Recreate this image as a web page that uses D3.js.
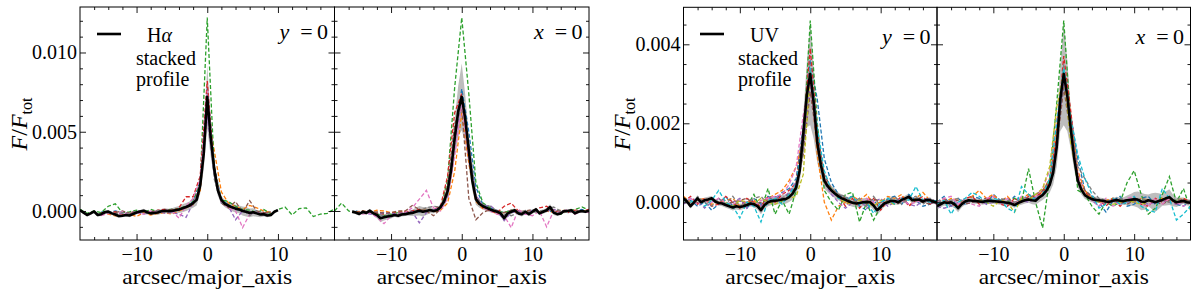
<!DOCTYPE html>
<html>
<head>
<meta charset="utf-8">
<script src="https://cdn.jsdelivr.net/npm/d3@7"></script>
<style>
  body { margin: 0; background: #fff; }
  svg { display: block; }
  text { font-family: "Liberation Serif", "DejaVu Serif", "Noto Serif", serif; fill: #000; }
</style>
</head>
<body>
<svg id="chart" width="1200" height="299"></svg>
<script>
// all profile values are F/F_tot in units of 1e-3

// ---- H-alpha, major axis (y = 0) ----
// stacked profile, x from -18 to 10 every 0.5 arcsec
const haMajBlack = [0.05,-0.1,-0.25,-0.15,-0.03,-0.25,-0.2,-0.08,-0.04,-0.15,-0.22,-0.32,-0.3,-0.25,-0.28,-0.19,-0.1,-0.03,0.02,-0.08,-0.15,-0.12,-0.1,-0.02,0.02,-0.01,0.0,0.05,0.1,0.17,0.25,0.35,0.5,0.7,1.6,3.6,7.2,4.6,2.6,1.3,0.7,0.45,0.33,0.23,0.15,0.1,0.0,-0.05,-0.12,-0.08,-0.15,-0.22,-0.2,-0.28,-0.25,-0.05,0.06];
const haMajSd = [0.08,0.08,0.1,0.1,0.1,0.1,0.12,0.12,0.1,0.1,0.12,0.12,0.1,0.1,0.12,0.1,0.1,0.1,0.12,0.12,0.1,0.12,0.15,0.15,0.15,0.15,0.18,0.2,0.22,0.25,0.25,0.25,0.3,0.35,0.5,1.0,2.0,1.2,0.6,0.35,0.25,0.22,0.22,0.25,0.25,0.25,0.28,0.3,0.28,0.25,0.22,0.18,0.15,0.12,0.1,0.08,0.08];
// single galaxies, every 1 arcsec from their start
const haMajColors = ['blue','orange','green','red','purple','brown','pink','gray'];
const haMajStarts = [-15,-15,-18,-15,-15,-13,-15,-14];
const haMajSeries = [
  [-0.05,-0.1,0.0,-0.1,-0.15,0.0,-0.1,-0.05,0.0,0.05,0.1,0.1,0.3,0.6,1.9,7.8,2.8,0.7,0.4,0.1,0.05,-0.1,0.0,-0.15,-0.05],
  [-0.1,-0.2,-0.3,-0.25,-0.2,-0.35,-0.1,-0.25,-0.15,-0.1,-0.2,0.0,0.2,0.4,1.2,6.3,3.8,1.2,0.5,0.3,0.1,0.35,0.2,0.0,-0.1],
  [0.1,-0.15,0.0,-0.1,0.3,0.45,-0.1,-0.05,0.05,-0.1,0.1,-0.05,0.05,0.1,0.15,0.3,0.6,1.8,12.2,2.6,0.7,0.6,0.3,0.1,0.05,-0.1,0.1,-0.2,0.1,0.25,-0.25,0.15,0.2,-0.35,-0.2,-0.15,0.15],
  [-0.1,-0.15,-0.05,-0.2,-0.1,-0.05,0.0,-0.1,0.05,0.1,0.0,0.2,0.9,0.9,2.2,8.2,2.4,0.6,0.3,0.15,0.0,-0.1,-0.05,-0.15,-0.1],
  [-0.2,-0.1,-0.25,-0.15,-0.2,-0.1,-0.2,-0.1,0.0,-0.15,-0.1,-0.2,-0.4,0.5,1.5,6.0,2.2,0.5,0.3,-0.55,0.0,-0.2,-0.1,-0.2],
  [-0.1,0.0,-0.15,-0.05,-0.1,0.0,-0.05,0.0,0.1,0.05,0.2,0.4,1.5,7.0,2.8,0.5,0.2,0.6,-0.1,0.65,0.0,-0.1,-0.05],
  [-0.3,-0.15,-0.2,-0.05,-0.3,-0.1,-0.2,0.0,-0.1,0.05,0.0,-0.45,0.3,0.8,2.0,7.6,2.5,0.6,0.2,0.0,-1.05,-0.2,-0.1,-0.15],
  [-0.1,-0.2,-0.1,-0.15,0.0,-0.1,-0.2,0.05,-0.05,0.0,0.1,0.2,0.5,1.4,6.8,2.0,0.5,0.4,0.2,0.1,-0.3,0.0,-0.2,-0.1]
];

// ---- H-alpha, minor axis (x = 0) ----
// stacked profile, x from -15.5 to 18 every 0.5 arcsec
const haMinBlack = [-0.04,-0.1,-0.19,-0.05,-0.12,0.02,-0.15,-0.25,-0.46,-0.4,-0.35,-0.32,-0.25,-0.3,-0.22,-0.2,-0.15,-0.12,-0.05,0.02,-0.05,0.0,0.06,0.0,0.05,0.25,0.6,1.25,2.6,4.6,6.3,7.2,5.8,3.8,1.9,0.75,0.45,0.3,0.2,0.1,0.02,-0.05,-0.15,-0.45,-0.15,-0.05,0.05,-0.15,-0.2,-0.05,-0.2,-0.05,0.1,-0.15,-0.05,0.05,0.25,-0.1,-0.2,-0.15,0.0,0.0,0.05,-0.15,-0.05,0.0,-0.05,0.02];
const haMinSd = [0.1,0.1,0.1,0.1,0.1,0.12,0.12,0.2,0.25,0.2,0.18,0.15,0.12,0.12,0.12,0.12,0.15,0.2,0.25,0.3,0.3,0.25,0.2,0.15,0.15,0.2,0.3,0.5,0.8,1.2,1.6,2.1,1.5,1.0,0.6,0.35,0.25,0.2,0.2,0.18,0.15,0.15,0.2,0.25,0.2,0.15,0.12,0.12,0.15,0.15,0.12,0.12,0.12,0.12,0.12,0.15,0.18,0.15,0.12,0.1,0.1,0.1,0.1,0.1,0.1,0.1,0.1,0.1];
const haMinColors = ['blue','orange','green','red','purple','brown','pink','gray'];
const haMinStarts = [-15,-15,-18,-15,-15,-15,-15,-15];
const haMinSeries = [
  [0.0,-0.1,-0.05,-0.15,-0.1,-0.2,-0.1,-0.15,0.0,-0.05,0.1,0.05,0.2,0.9,4.5,7.7,5.0,1.5,0.4,0.2,0.0,-0.1,0.0,-0.15,-0.1,0.05,-0.1,0.0,-0.05,0.05,-0.1,0.0,0.1,-0.05],
  [-0.05,0.0,-0.1,0.05,0.0,-0.1,-0.05,0.0,-0.1,0.05,0.15,-0.05,0.05,0.5,2.5,6.2,3.0,0.6,0.15,0.05,-0.2,-0.1,0.0,-0.15,-0.1,0.05,-0.05,0.0,-0.1,0.05,0.0,-0.05,0.0,0.05],
  [0.0,0.5,0.0,-0.1,-0.15,0.0,-0.2,-0.3,-0.2,-0.1,-0.2,-0.1,0.1,0.0,0.05,0.1,2.0,7.8,12.2,7.4,1.8,0.5,0.2,0.0,-0.1,0.05,0.0,-0.05,0.0,-0.1,0.1,0.0,-0.2,0.0,0.1,0.25,0.05],
  [-0.1,-0.05,0.0,-0.15,-0.2,-0.1,-0.15,-0.05,0.0,0.1,0.0,0.1,0.3,2.2,6.2,7.4,3.5,0.8,0.2,0.0,-0.1,0.3,0.5,0.0,-0.1,-0.05,0.2,0.3,-0.05,0.0,-0.1,0.05,0.0,0.1],
  [-0.15,-0.1,-0.2,-0.25,-0.1,-0.2,-0.15,-0.1,-0.05,-0.75,-0.1,0.1,0.2,1.2,4.2,6.9,4.0,1.0,0.3,0.35,0.0,-0.6,-0.1,0.0,-0.2,0.05,-0.1,0.0,0.1,-0.05],
  [-0.1,0.0,-0.1,-0.05,-0.15,-0.1,0.0,0.0,0.35,0.1,0.0,-0.3,0.1,1.6,5.5,6.5,0.8,-0.55,-0.1,0.1,0.0,-0.1,0.05,-0.05,0.0,0.1,-0.1,0.0,0.05,-0.05],
  [-0.1,-0.2,-0.1,-0.4,-0.8,-0.3,-0.2,-0.1,0.2,0.75,1.3,0.2,0.0,0.8,3.5,6.8,3.2,0.9,0.2,0.0,-0.2,-0.3,-1.05,0.1,-0.2,-0.3,0.0,-1.0,0.0,-0.1,0.1,-0.2,0.0,-0.1],
  [-0.1,-0.15,-0.05,-0.2,-0.3,-0.25,-0.2,-0.15,-0.1,0.0,0.2,0.3,0.25,1.0,4.8,7.0,4.4,0.9,0.4,0.3,0.0,-0.2,-0.3,-0.1,0.0,-0.1,0.0,0.1,0.25,0.0,-0.1,0.0,-0.05,0.0]
];

// ---- UV, major axis (y = 0) ----
// stacked profile, x from -18 to 18 every 0.5 arcsec
const uvMajBlack = [0.1,0.02,-0.1,0.0,0.1,0.0,0.05,0.07,0.1,0.02,-0.02,-0.03,-0.07,-0.1,-0.13,-0.1,-0.12,-0.1,-0.07,-0.03,-0.05,-0.1,-0.2,-0.07,0.0,0.03,0.04,0.05,0.07,0.08,0.13,0.22,0.38,0.8,1.7,2.7,3.25,2.5,1.5,0.95,0.55,0.4,0.3,0.22,0.15,0.1,0.06,0.02,-0.01,-0.03,-0.02,0.0,0.01,0.0,-0.08,-0.2,-0.12,-0.03,0.0,0.04,0.03,0.0,0.06,0.1,0.14,0.05,0.06,0.07,0.02,0.06,0.05,0.02,-0.01];
const uvMajSd = [0.05,0.05,0.06,0.06,0.06,0.06,0.07,0.07,0.06,0.06,0.06,0.07,0.07,0.07,0.08,0.08,0.08,0.07,0.07,0.07,0.08,0.08,0.1,0.1,0.1,0.1,0.1,0.1,0.12,0.12,0.12,0.15,0.2,0.3,0.5,0.8,1.3,0.9,0.5,0.3,0.2,0.15,0.12,0.12,0.1,0.1,0.1,0.1,0.1,0.1,0.1,0.1,0.1,0.1,0.12,0.12,0.1,0.08,0.08,0.08,0.08,0.07,0.07,0.07,0.08,0.08,0.07,0.07,0.06,0.06,0.06,0.05,0.05];
const uvMajColors = ['blue','orange','green','red','purple','brown','pink','gray','olive','cyan'];
const uvMajStarts = [-18,-18,-11,-18,-18,-18,-18,-18,-12,-18];
const uvMajSeries = [
  [0.1,0.05,-0.1,0.0,-0.2,-0.05,0.15,-0.1,0.05,-0.15,0.1,-0.05,0.15,0.05,0.25,0.35,0.6,1.9,3.6,2.6,1.1,0.5,0.2,0.1,0.15,-0.1,-0.2,0.05,-0.15,0.1,0.15,-0.05,0.2,0.05,-0.1,-0.05,0.05],
  [0.15,0.0,0.05,0.1,-0.05,0.0,0.05,0.1,-0.1,0.0,0.05,-0.15,0.1,0.2,0.3,0.55,0.9,1.6,3.3,1.2,0.0,-0.45,-0.1,0.0,0.15,0.05,0.2,-0.05,0.0,0.15,0.1,0.2,-0.1,0.1,0.25,0.05,0.0],
  [-0.1,0.05,-0.1,0.2,-0.2,0.35,-0.3,0.05,-0.3,0.3,1.5,4.6,2.0,0.3,0.0,-0.2,0.2,0.25,-0.5,0.0,-0.45,-0.1,0.0],
  [0.0,0.15,-0.05,0.1,-0.1,-0.05,0.15,0.0,-0.15,0.1,0.0,-0.1,0.15,0.0,0.2,0.3,0.5,1.8,3.9,1.8,0.6,0.3,0.15,-0.1,0.1,-0.15,0.05,0.1,-0.2,0.05,0.0,0.15,-0.1,0.05,0.15,-0.05,0.05],
  [-0.05,0.1,0.05,-0.15,0.0,0.1,-0.1,0.0,0.1,-0.15,0.0,-0.1,0.1,0.15,0.1,0.25,0.5,1.4,3.0,1.6,0.5,0.2,0.0,-0.15,0.0,0.1,-0.15,0.0,0.1,-0.1,0.0,0.1,-0.05,-0.1,0.05,0.1,0.0],
  [0.05,-0.05,0.0,0.05,0.1,0.0,-0.05,0.0,0.05,0.1,-0.05,0.0,0.05,0.0,0.1,0.2,0.4,1.2,2.8,1.5,0.7,0.35,0.2,0.1,0.0,0.05,-0.05,0.1,0.0,0.05,-0.05,0.0,0.1,0.05,0.0,-0.05,0.05],
  [0.0,0.1,-0.05,0.05,0.0,0.1,0.0,-0.05,0.05,0.0,-0.1,0.05,0.1,0.15,0.2,0.45,0.9,2.2,3.1,1.4,0.6,0.25,0.1,0.05,-0.05,0.0,0.1,0.0,-0.05,0.05,0.0,0.05,-0.05,0.0,0.05,0.0,-0.05],
  [0.05,-0.1,0.15,0.0,-0.1,0.1,-0.05,0.15,-0.1,0.0,0.1,0.15,-0.05,0.1,0.1,0.2,0.3,1.3,3.5,1.7,0.5,0.35,0.2,0.15,0.0,0.1,-0.1,0.15,-0.1,0.05,0.15,-0.05,0.1,0.15,-0.05,0.1,0.0],
  [0.0,-0.1,0.05,0.0,-0.05,0.1,0.0,-0.05,0.05,0.1,0.15,0.7,3.3,1.5,0.5,0.35,0.1,0.0,-0.05,0.05,0.0,-0.1,0.05,0.0,-0.05],
  [0.05,0.0,0.1,-0.1,0.05,0.3,0.0,-0.1,-0.4,0.0,-0.1,-0.5,0.05,0.1,-0.05,0.2,0.45,1.7,3.4,1.9,0.8,0.3,0.1,0.05,0.15,-0.05,0.0,-0.28,0.0,0.1,-0.05,0.1,0.05,0.4,0.05,0.0,0.05]
];

// ---- UV, minor axis (x = 0) ----
const uvMinBlack = [-0.1,-0.05,0.0,-0.02,0.0,-0.05,-0.15,-0.05,0.02,0.05,0.04,0.03,0.02,0.01,0.03,0.04,0.03,0.02,0.01,0.0,-0.01,-0.03,-0.07,-0.02,0.02,0.05,0.07,0.05,0.04,0.12,0.18,0.28,0.44,0.75,1.4,2.6,3.25,2.7,1.85,1.1,0.55,0.32,0.18,0.12,0.08,0.06,0.05,0.04,0.02,0.01,0.04,0.06,0.04,0.03,0.05,0.06,0.08,0.07,0.02,0.01,0.05,0.03,0.0,0.03,0.06,0.1,0.13,0.05,0.0,0.02,0.04,0.0,-0.01];
const uvMinSd = [0.08,0.08,0.08,0.08,0.1,0.1,0.1,0.08,0.08,0.07,0.07,0.07,0.07,0.07,0.07,0.07,0.07,0.07,0.07,0.07,0.07,0.07,0.07,0.07,0.08,0.08,0.08,0.1,0.1,0.12,0.12,0.15,0.2,0.3,0.5,0.8,1.3,0.9,0.5,0.3,0.18,0.12,0.1,0.08,0.08,0.08,0.07,0.07,0.07,0.07,0.07,0.08,0.08,0.1,0.12,0.15,0.18,0.2,0.22,0.2,0.15,0.2,0.24,0.2,0.15,0.18,0.2,0.15,0.12,0.1,0.08,0.08,0.08];
const uvMinColors = ['blue','orange','green','red','purple','brown','pink','gray','olive','cyan'];
const uvMinStarts = [-18,-18,-8,-18,-18,-18,-18,-18,-12,-18];
const uvMinSeries = [
  [0.0,0.15,-0.1,0.1,-0.05,0.15,0.1,-0.05,0.2,0.05,-0.05,0.15,0.05,0.2,0.1,0.2,0.5,1.6,3.0,2.2,1.1,0.3,0.15,0.0,-0.25,0.05,0.15,-0.1,-0.05,0.1,0.15,-0.05,0.05,0.15,-0.05,-0.1,0.05],
  [0.05,0.0,0.1,0.05,0.0,0.15,0.3,0.1,0.2,0.0,0.15,-0.05,0.1,0.2,0.05,0.3,0.6,1.9,3.3,2.2,0.8,0.3,0.1,0.0,0.05,0.1,-0.05,0.05,0.0,0.1,0.05,0.0,0.1,0.0,0.05,0.1,0.0],
  [0.0,0.1,0.0,0.85,0.0,-0.65,0.6,2.5,4.6,2.0,0.3,0.2,-0.1,-0.3,0.0,-0.1,0.0,0.5,0.8,0.2,-0.3,-0.15,0.2,0.65,0.0,0.35,-0.2],
  [0.0,0.1,-0.05,-0.1,0.1,0.15,-0.05,0.05,0.15,-0.05,-0.1,0.1,0.0,0.15,0.15,0.25,0.5,1.7,3.7,2.3,0.7,0.25,0.1,0.05,-0.1,0.1,-0.1,0.05,0.1,-0.05,-0.1,0.1,0.0,0.1,-0.05,0.1,0.0],
  [-0.1,-0.15,-0.1,0.0,-0.05,0.0,0.05,-0.05,0.0,0.05,-0.05,0.0,0.05,0.0,0.1,0.2,0.45,1.5,3.1,2.0,0.6,0.2,0.05,-0.1,0.0,0.05,-0.05,0.0,0.05,0.0,-0.05,0.0,0.05,0.0,-0.05,0.0,0.0],
  [0.0,0.05,0.0,0.05,-0.05,0.0,0.05,0.1,0.0,0.05,0.1,0.0,0.05,0.1,0.2,0.3,0.55,1.4,2.9,1.7,0.6,0.3,0.15,0.05,0.0,0.05,0.0,-0.05,0.05,0.0,0.05,0.0,-0.05,0.05,0.0,0.0,0.05],
  [0.0,0.1,0.15,-0.05,0.1,-0.05,-0.1,0.1,0.15,-0.05,0.1,-0.05,0.15,0.05,0.15,0.35,0.8,2.1,3.2,1.9,0.7,0.2,0.05,-0.1,0.1,-0.1,0.0,0.1,0.15,-0.05,-0.1,0.1,-0.05,0.1,0.0,-0.1,0.0],
  [0.05,0.0,0.05,0.1,0.0,0.05,0.0,0.05,0.0,0.1,0.05,0.0,0.05,0.1,0.1,0.2,0.4,1.4,3.5,2.0,0.9,0.6,0.3,0.1,0.05,0.0,0.1,0.05,0.0,0.1,0.05,0.0,0.05,0.0,0.1,0.05,0.0],
  [0.05,0.0,-0.1,0.05,0.0,-0.25,0.1,0.05,0.2,0.35,0.9,2.4,3.3,1.5,0.6,0.2,0.1,0.0,0.05,-0.05,0.0,0.05,0.0,-0.05,0.0],
  [-0.05,0.05,-0.3,0.0,0.1,0.25,0.15,0.0,0.1,0.05,-0.15,-0.25,0.4,0.2,0.05,0.2,0.6,2.0,3.4,2.1,1.2,0.6,0.2,-0.15,-0.05,0.1,-0.05,0.0,0.15,-0.1,-0.2,-0.25,0.35,0.1,-0.45,-0.3,-0.1]
];

// axis ticks
const xMajorTicks = [-10, 0, 10];
const xMinorTicks = [-16, -14, -12, -8, -6, -4, -2, 2, 4, 6, 8, 12, 14, 16];
const haYMajor = [0, 5, 10];
const haYMinor = [-1, 1, 2, 3, 4, 6, 7, 8, 9, 11, 12];
const uvYMajor = [0, 2, 4];
const uvYMinor = [-0.5, 0.5, 1, 1.5, 2.5, 3, 3.5, 4.5];

const tab10 = {blue:'#1f77b4', orange:'#ff7f0e', green:'#2ca02c', red:'#d62728', purple:'#9467bd',
  brown:'#8c564b', pink:'#e377c2', gray:'#7f7f7f', olive:'#bcbd22', cyan:'#17becf'};

const svg = d3.select('#chart');
const FONT = 20;
const SERIF = '"Liberation Serif", "DejaVu Serif", "Noto Serif", serif';

const panels = [
  {x0: 80, x1: 334.5, top: 7, bottom: 240, yDomain: [-1.83, 12.87], yMajor: haYMajor, yMinor: haYMinor,
   black: haMajBlack, blackStart: -18, sd: haMajSd, colors: haMajColors, starts: haMajStarts, series: haMajSeries,
   yLabels: true, title: 'arcsec/major_axis', tag: 'y', tagBase: 38.5},
  {x0: 334.5, x1: 589, top: 7, bottom: 240, yDomain: [-1.83, 12.87], yMajor: haYMajor, yMinor: haYMinor,
   black: haMinBlack, blackStart: -15.5, sd: haMinSd, colors: haMinColors, starts: haMinStarts, series: haMinSeries,
   yLabels: false, title: 'arcsec/minor_axis', tag: 'x', tagBase: 38.5},
  {x0: 683.5, x1: 937, top: 7.3, bottom: 240, yDomain: [-0.955, 4.937], yMajor: uvYMajor, yMinor: uvYMinor,
   black: uvMajBlack, blackStart: -18, sd: uvMajSd, colors: uvMajColors, starts: uvMajStarts, series: uvMajSeries,
   yLabels: true, title: 'arcsec/major_axis', tag: 'y', tagBase: 44},
  {x0: 937, x1: 1190.5, top: 7.3, bottom: 240, yDomain: [-0.955, 4.937], yMajor: uvYMajor, yMinor: uvYMinor,
   black: uvMinBlack, blackStart: -18, sd: uvMinSd, colors: uvMinColors, starts: uvMinStarts, series: uvMinSeries,
   yLabels: false, title: 'arcsec/minor_axis', tag: 'x', tagBase: 44}
];

function styleAxis(g) {
  g.select('.domain').remove();
  g.attr('font-family', SERIF).attr('font-size', FONT);
  g.selectAll('text').style('font-family', SERIF);
  g.selectAll('line').attr('stroke', '#000').attr('stroke-width', 0.9);
}

panels.forEach((p, k) => {
  const x = d3.scaleLinear().domain([-18, 18]).range([p.x0, p.x1]);
  const y = d3.scaleLinear().domain(p.yDomain).range([p.bottom, p.top]);

  svg.append('clipPath').attr('id', 'clip' + k)
    .append('rect').attr('x', p.x0).attr('y', p.top)
    .attr('width', p.x1 - p.x0).attr('height', p.bottom - p.top);

  const plot = svg.append('g').attr('clip-path', `url(#clip${k})`);

  // scatter band around the stacked profile
  const pts = p.black.map((v, i) => ({x: p.blackStart + i * 0.5, v: v, s: p.sd[i]}));
  plot.append('path')
    .datum(pts)
    .attr('fill', '#bdbdbd')
    .attr('d', d3.area().x(d => x(d.x)).y0(d => y(d.v - d.s)).y1(d => y(d.v + d.s)));

  // individual galaxies
  const line = d3.line().x(d => x(d.x)).y(d => y(d.v));
  p.series.forEach((vals, j) => {
    const data = vals.map((v, i) => ({x: p.starts[j] + i, v: v}));
    plot.append('path')
      .datum(data)
      .attr('fill', 'none')
      .attr('stroke', tab10[p.colors[j]])
      .attr('stroke-width', 1.3)
      .attr('stroke-dasharray', '4,2.2')
      .attr('d', line);
  });

  // stacked profile
  plot.append('path')
    .datum(pts)
    .attr('fill', 'none')
    .attr('stroke', '#000')
    .attr('stroke-width', 2.6)
    .attr('stroke-linejoin', 'round')
    .attr('d', line);

  // axes: ticks pointing inwards on all four sides
  const fmtX = d3.format('d');
  svg.append('g').attr('transform', `translate(0,${p.bottom})`)
    .call(d3.axisBottom(x).tickValues(xMajorTicks).tickSizeInner(-6).tickSizeOuter(0).tickPadding(6.5).tickFormat(fmtX))
    .call(styleAxis);
  svg.append('g').attr('transform', `translate(0,${p.bottom})`)
    .call(d3.axisBottom(x).tickValues(xMinorTicks).tickSizeInner(-3).tickSizeOuter(0).tickFormat(''))
    .call(styleAxis);
  svg.append('g').attr('transform', `translate(0,${p.top})`)
    .call(d3.axisTop(x).tickValues(xMajorTicks).tickSizeInner(-6).tickSizeOuter(0).tickFormat(''))
    .call(styleAxis);
  svg.append('g').attr('transform', `translate(0,${p.top})`)
    .call(d3.axisTop(x).tickValues(xMinorTicks).tickSizeInner(-3).tickSizeOuter(0).tickFormat(''))
    .call(styleAxis);

  const fmtY = p.yLabels ? (d => d3.format('.3f')(d / 1000)) : '';
  svg.append('g').attr('transform', `translate(${p.x0},0)`)
    .call(d3.axisLeft(y).tickValues(p.yMajor).tickSizeInner(-6).tickSizeOuter(0).tickPadding(3).tickFormat(fmtY))
    .call(styleAxis);
  svg.append('g').attr('transform', `translate(${p.x0},0)`)
    .call(d3.axisLeft(y).tickValues(p.yMinor).tickSizeInner(-3).tickSizeOuter(0).tickFormat(''))
    .call(styleAxis);
  svg.append('g').attr('transform', `translate(${p.x1},0)`)
    .call(d3.axisRight(y).tickValues(p.yMajor).tickSizeInner(-6).tickSizeOuter(0).tickFormat(''))
    .call(styleAxis);
  svg.append('g').attr('transform', `translate(${p.x1},0)`)
    .call(d3.axisRight(y).tickValues(p.yMinor).tickSizeInner(-3).tickSizeOuter(0).tickFormat(''))
    .call(styleAxis);

  // frame
  svg.append('rect')
    .attr('x', p.x0).attr('y', p.top)
    .attr('width', p.x1 - p.x0).attr('height', p.bottom - p.top)
    .attr('fill', 'none').attr('stroke', '#000').attr('stroke-width', 1);

  // x axis title
  svg.append('text')
    .attr('x', (p.x0 + p.x1) / 2).attr('y', 284)
    .attr('text-anchor', 'middle').attr('font-size', 21)
    .attr('textLength', 170).attr('lengthAdjust', 'spacingAndGlyphs')
    .text(p.title);

  // y = 0 / x = 0 tag
  const tag = svg.append('text')
    .attr('x', p.x1 - 6.5).attr('y', p.tagBase)
    .attr('text-anchor', 'end').attr('font-size', 22);
  tag.append('tspan').attr('font-style', 'italic').text(p.tag);
  tag.append('tspan').text('\u2002=\u20090');
});

// y axis labels F/F_tot
[{x: 27, y: 124}, {x: 630, y: 124}].forEach(pos => {
  const t = svg.append('text')
    .attr('transform', `translate(${pos.x},${pos.y}) rotate(-90)`)
    .attr('text-anchor', 'middle').attr('font-size', 24);
  t.append('tspan').attr('font-style', 'italic').text('F');
  t.append('tspan').text('/');
  t.append('tspan').attr('font-style', 'italic').text('F');
  t.append('tspan').attr('font-size', 16).attr('dy', 5).text('tot');
});

// legends
const legends = [
  {lx0: 97, lx1: 121, ly: 34, head: ['H', 'α'], headX: 147, textX: 136},
  {lx0: 700, lx1: 724, ly: 34, head: ['UV', ''], headX: 750, textX: 738}
];
legends.forEach(l => {
  svg.append('line')
    .attr('x1', l.lx0).attr('x2', l.lx1).attr('y1', l.ly).attr('y2', l.ly)
    .attr('stroke', '#000').attr('stroke-width', 2.6);
  const h = svg.append('text').attr('x', l.headX).attr('y', 42).attr('font-size', FONT);
  h.append('tspan').text(l.head[0]);
  h.append('tspan').attr('font-style', 'italic').text(l.head[1]);
  svg.append('text').attr('x', l.textX).attr('y', 65).attr('font-size', FONT).text('stacked');
  svg.append('text').attr('x', l.textX).attr('y', 86).attr('font-size', FONT).text('profile');
});
</script>
</body>
</html>
